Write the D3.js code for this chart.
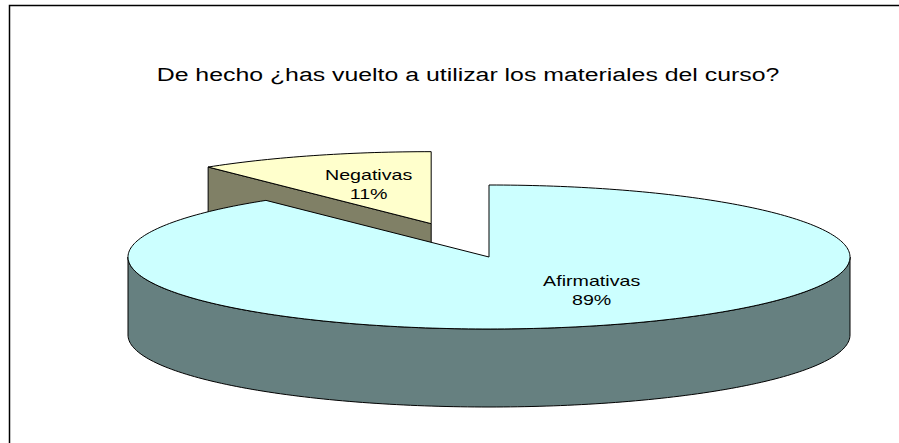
<!DOCTYPE html>
<html>
<head>
<meta charset="utf-8">
<script src="https://cdn.jsdelivr.net/npm/d3@7"></script>
<style>
  body { margin: 0; background: #fff; }
  text { font-family: "Liberation Sans", Arial, sans-serif; fill: #000; }
</style>
</head>
<body>
<div id="chart"></div>
<script>
// data
var title = "De hecho ¿has vuelto a utilizar los materiales del curso?";
var categories = ["Afirmativas", "Negativas"];
var values = [89.4, 10.6];
var explode = [0, 0.49];
var topColors = ["#ccffff", "#ffffcc"];
var sideColors = ["#668080", "#808066"];

// layout
var labelRadius = [[0.87, 0.48], [0.53, 0.59]];
var W = 899, H = 443;
var cx = 489, cy = 257, rx = 361, ry = 72, depth = 78;

var svg = d3.select("#chart").append("svg").attr("width", W).attr("height", H);

svg.append("rect")
    .attr("x", 9.5).attr("y", 5.5)
    .attr("width", 1000).attr("height", 1000)
    .style("fill", "#fff")
    .style("stroke", "#000")
    .style("stroke-width", 1.5);

svg.append("text")
    .attr("transform", "translate(468,81) scale(1.38,1)")
    .attr("text-anchor", "middle")
    .style("font-size", "18px")
    .text(title);

var x = d3.scaleLinear().domain([-1, 1]).range([cx - rx, cx + rx]);
var y = d3.scaleLinear().domain([-1, 1]).range([cy - ry, cy + ry]);

var pie = d3.pie().sort(null).value(function(d) { return d; });
var arcs = pie(values);
var total = d3.sum(values);
var pct = d3.format(".0%");

arcs.forEach(function(d, i) {
    d.i = i;
    d.mid = (d.startAngle + d.endAngle) / 2;
    d.ox = explode[i] * Math.sin(d.mid);
    d.oy = -explode[i] * Math.cos(d.mid);
});

function pt(d, a, r, h) {
    return [x(d.ox + r * Math.sin(a)), y(d.oy - r * Math.cos(a)) + h];
}
function arcPts(d, a0, a1, h) {
    var n = Math.max(2, Math.ceil((a1 - a0) / 0.02));
    return d3.range(n + 1).map(function(k) { return pt(d, a0 + (a1 - a0) * k / n, 1, h); });
}
var line = d3.line();

// back slices first
var order = arcs.slice().sort(function(a, b) { return Math.cos(b.mid) - Math.cos(a.mid); });

var g = svg.append("g")
    .style("stroke", "#000")
    .style("stroke-width", 1)
    .style("stroke-linejoin", "round");

order.forEach(function(d) {
    var sg = g.append("g");
    // cut faces
    if (Math.sin(d.startAngle) < -1e-6) {
        sg.append("path")
            .attr("d", line([pt(d, 0, 0, 0), pt(d, d.startAngle, 1, 0), pt(d, d.startAngle, 1, depth), pt(d, 0, 0, depth)]) + "Z")
            .style("fill", sideColors[d.i]);
    }
    if (Math.sin(d.endAngle) > 1e-6) {
        sg.append("path")
            .attr("d", line([pt(d, 0, 0, 0), pt(d, d.endAngle, 1, 0), pt(d, d.endAngle, 1, depth), pt(d, 0, 0, depth)]) + "Z")
            .style("fill", sideColors[d.i]);
    }
    // outer rim (front half only)
    var s0 = Math.max(d.startAngle, Math.PI / 2), s1 = Math.min(d.endAngle, 3 * Math.PI / 2);
    if (s1 > s0) {
        var pts = arcPts(d, s0, s1, 0).concat(arcPts(d, s0, s1, depth).reverse());
        sg.append("path")
            .attr("d", line(pts) + "Z")
            .style("fill", sideColors[d.i]);
    }
    // top
    var top = [pt(d, 0, 0, 0)].concat(arcPts(d, d.startAngle, d.endAngle, 0));
    sg.append("path")
        .attr("d", line(top) + "Z")
        .style("fill", topColors[d.i]);
});

// labels
var labels = svg.append("g").selectAll("g")
    .data(arcs)
    .enter().append("g")
    .attr("transform", function(d) {
        var lr = labelRadius[d.i];
        return "translate(" + x(d.ox + lr[0] * Math.sin(d.mid)) + "," + y(d.oy - lr[1] * Math.cos(d.mid)) + ")";
    });

labels.append("text")
    .attr("transform", "translate(0,-4) scale(1.31,1)")
    .attr("text-anchor", "middle")
    .style("font-size", "15px")
    .text(function(d) { return categories[d.i]; });

labels.append("text")
    .attr("transform", "translate(0,15) scale(1.31,1)")
    .attr("text-anchor", "middle")
    .style("font-size", "15px")
    .text(function(d) { return pct(d.value / total); });
</script>
</body>
</html>
